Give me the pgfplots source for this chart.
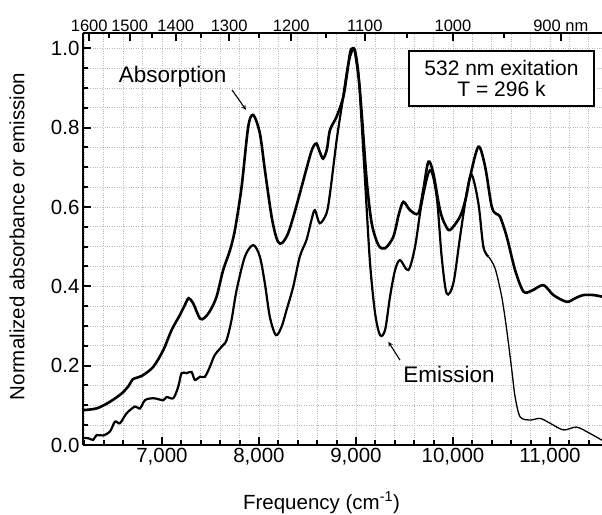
\documentclass[border=0pt]{standalone}
\usepackage{pgfplots}
\pgfplotsset{compat=1.18}
\usepackage{fontspec}
\setmainfont{Liberation Sans}

\pgfplotstableread{
x y
6190 0.088
6330 0.0925
6464 0.109
6585 0.130
6660 0.150
6700 0.166
6791 0.174
6910 0.197
7013 0.239
7100 0.290
7185 0.328
7240 0.355
7275 0.370
7322 0.357
7391 0.319
7440 0.321
7500 0.340
7563 0.374
7631 0.441
7700 0.490
7752 0.542
7821 0.651
7889 0.802
7941 0.832
8009 0.786
8061 0.693
8130 0.576
8180 0.522
8215 0.508
8250 0.512
8301 0.534
8360 0.580
8421 0.634
8524 0.727
8560 0.752
8593 0.760
8625 0.740
8661 0.722
8700 0.745
8732 0.794
8801 0.828
8870 0.878
8910 0.940
8940 0.990
8965 1.000
8990 0.990
9030 0.920
9059 0.836
9110 0.668
9162 0.559
9231 0.504
9300 0.496
9385 0.525
9440 0.580
9488 0.613
9557 0.592
9643 0.584
9694 0.643
9746 0.714
9797 0.685
9866 0.592
9920 0.555
9970 0.542
10073 0.576
10130 0.620
10176 0.676
10262 0.752
10331 0.702
10399 0.601
10450 0.582
10485 0.576
10554 0.525
10640 0.441
10726 0.387
10812 0.389
10932 0.403
11035 0.378
11172 0.361
11260 0.370
11344 0.378
11447 0.378
11536 0.374
}\absorption

\pgfplotstableread{
x y
6190 0.018
6241 0.017
6291 0.013
6327 0.025
6395 0.024
6464 0.034
6516 0.059
6567 0.055
6636 0.080
6722 0.097
6773 0.092
6825 0.113
6910 0.118
7013 0.113
7048 0.121
7117 0.118
7168 0.147
7202 0.181
7254 0.181
7305 0.184
7339 0.164
7391 0.172
7442 0.172
7494 0.197
7545 0.227
7631 0.252
7666 0.264
7717 0.315
7769 0.390
7855 0.475
7941 0.504
8009 0.475
8061 0.407
8112 0.323
8174 0.277
8233 0.298
8284 0.340
8353 0.399
8421 0.475
8490 0.517
8541 0.567
8576 0.592
8627 0.559
8696 0.584
8732 0.634
8801 0.769
8853 0.853
8920 0.960
8980 1.000
9020 0.950
9042 0.878
9093 0.668
9145 0.458
9197 0.332
9248 0.277
9300 0.290
9351 0.374
9403 0.441
9454 0.466
9540 0.441
9609 0.500
9677 0.609
9763 0.693
9832 0.626
9883 0.475
9935 0.382
10004 0.408
10073 0.525
10141 0.634
10193 0.681
10262 0.609
10313 0.500
10365 0.475
}\emissionA

\pgfplotstableread{
x y
10365 0.475
10433 0.446
10502 0.374
10554 0.290
10606 0.189
10640 0.122
10692 0.071
10795 0.063
10898 0.067
11000 0.055
11138 0.038
11275 0.045
11413 0.029
11536 0.012
}\emissionB

\begin{document}
\begin{tikzpicture}
\useasboundingbox (-83pt,-69pt) rectangle (519pt,445pt);
\begin{axis}[
  at={(0pt,0pt)}, anchor=south west,
  scale only axis, width=519pt, height=412pt,
  xmin=6186, xmax=11536, ymin=0, ymax=1.0386,
  scaled x ticks=false, scaled y ticks=false,
  axis x line*=bottom, axis y line*=left,
  axis line style={line width=2.2pt, black},
  tick align=inside,
  major tick length=8pt, minor tick length=5pt,
  every tick/.style={line width=2pt, black},
  xtick={7000,8000,9000,10000,11000},
  xticklabels={{7,000},{8,000},{9,000},{10,000},{11,000}},
  minor xtick={6200,6400,6600,6800,7200,7400,7600,7800,8200,8400,8600,8800,9200,9400,9600,9800,10200,10400,10600,10800,11200,11400},
  ytick={0,0.2,0.4,0.6,0.8,1.0},
  yticklabels={0.0,0.2,0.4,0.6,0.8,1.0},
  minor ytick={0.05,0.1,0.15,0.25,0.3,0.35,0.45,0.5,0.55,0.65,0.7,0.75,0.85,0.9,0.95},
  grid=both,
  major grid style={dotted, gray!55, line width=0.7pt},
  minor grid style={dotted, gray!55, line width=0.7pt},
  tick label style={font=\fontsize{20.5}{24}\selectfont},
  xlabel={Frequency (cm\textsuperscript{-1})},
  ylabel={Normalized absorbance or emission},
  label style={font=\fontsize{20.5}{24}\selectfont},
  xlabel style={at={(axis description cs:0.4595,-0.14)}, anchor=center},
  ylabel style={at={(axis description cs:-0.127,0.506)}, anchor=center},
  clip=true,
]
\addplot[black, line width=2.6pt, smooth, tension=0.5] table {\absorption};
\addplot[black, line width=2.2pt, smooth, tension=0.5] table {\emissionA};
\addplot[black, line width=1.3pt, smooth, tension=0.5] table {\emissionB};
\node[draw=black, line width=1.3pt, fill=white, align=center, minimum width=185pt, minimum height=55pt, inner sep=0pt, font=\fontsize{21}{21}\selectfont] at (axis cs:10500,0.924) {532 nm exitation\\T = 296 k};
\node[font=\fontsize{22.5}{24}\selectfont] at (axis cs:7109,0.929) {Absorption};
\draw[-stealth, line width=1.1pt] (axis cs:7722,0.895) -- (axis cs:7866,0.845);
\node[font=\fontsize{22.5}{24}\selectfont] at (axis cs:9959,0.179) {Emission};
\draw[-stealth, line width=1.1pt] (axis cs:9454,0.214) -- (axis cs:9334,0.26);
\end{axis}
\begin{axis}[
  at={(0pt,0pt)}, anchor=south west,
  scale only axis, width=519pt, height=412pt,
  xmin=6186, xmax=11536, ymin=0, ymax=1.0386,
  scaled x ticks=false,
  axis x line*=top, axis y line=none,
  axis line style={line width=2.2pt, black},
  tick align=inside,
  major tick length=8pt, minor tick length=5pt,
  every tick/.style={line width=2pt, black},
  xtick={6250,6666.67,7142.86,7692.31,8333.33,9090.91,10000,11111.11},
  xticklabels={1600,1500,1400,1300,1200,1100,1000,900 nm},
  minor xtick={6451.61,6896.55,7407.41,8000,8695.65,9523.81,10526.32},
  tick label style={font=\fontsize{16.5}{18}\selectfont},
  xticklabel style={yshift=-2pt},
]
\end{axis}
\end{tikzpicture}
\end{document}
